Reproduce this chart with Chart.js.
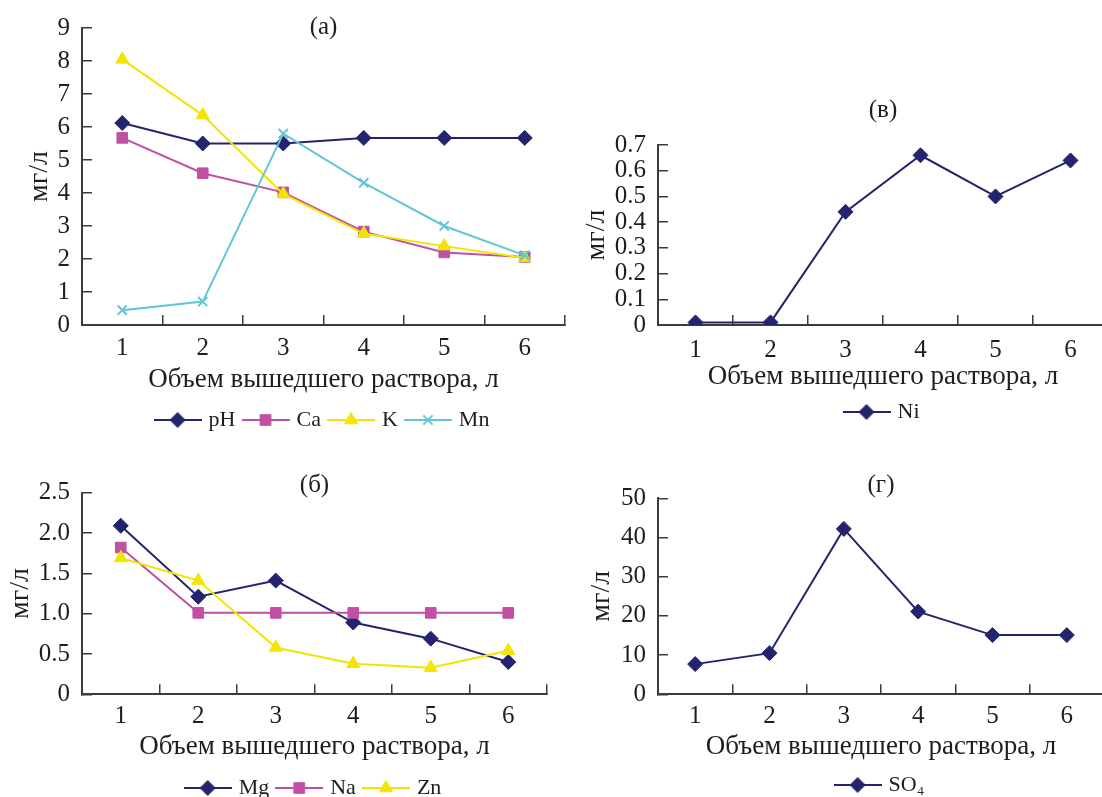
<!DOCTYPE html>
<html lang="ru">
<head>
    <meta charset="UTF-8">
    <title>Состав вышедшего раствора</title>
    <script src="https://cdn.jsdelivr.net/npm/chart.js"></script>
    <style>
        html, body {
            margin: 0;
            background: #fff;
            overflow: hidden;
        }
        #page {
            position: relative;
            width: 1102px;
            height: 797px;
            overflow: hidden;
        }
        #page canvas {
            position: absolute;
        }
    </style>
</head>
<body>
<div id="page">
    <canvas id="chartA" width="575" height="441" style="left:0;top:0"></canvas>
    <canvas id="chartB" width="557" height="349" style="left:0;top:460px"></canvas>
    <canvas id="chartV" width="560" height="353" style="left:560px;top:80px"></canvas>
    <canvas id="chartG" width="560" height="346" style="left:560px;top:460px"></canvas>
</div>
<script>
    // data (volume of outflowing solution, litres)
    const volumes = ['1', '2', '3', '4', '5', '6'];

    // (а)
    const pH = [6.12, 5.5, 5.5, 5.67, 5.67, 5.67];
    const ca = [5.67, 4.6, 4.02, 2.83, 2.2, 2.06];
    const k  = [8.05, 6.36, 3.97, 2.77, 2.39, 2.03];
    const mn = [0.45, 0.71, 5.8, 4.31, 3.0, 2.11];

    // (б)
    const mg = [2.09, 1.21, 1.41, 0.89, 0.69, 0.4];
    const na = [1.82, 1.01, 1.01, 1.01, 1.01, 1.01];
    const zn = [1.69, 1.41, 0.58, 0.38, 0.33, 0.54];

    // (в)
    const ni = [0.01, 0.01, 0.44, 0.66, 0.5, 0.64];

    // (г)
    const so4 = [7.7, 10.5, 42.2, 21.1, 15.1, 15.1];

    const xTitle = 'Объем вышедшего раствора, л';
    const yTitle = 'мг/л';

    const navy = '#24246e';
    const magenta = '#bf50a3';
    const yellow = '#f2e500';
    const cyan = '#62c6d5';
    const axisColor = '#3c3c3c';
    const textColor = '#1e1e1e';

    Chart.defaults.font.family = '"Liberation Serif", "Times New Roman", serif';
    Chart.defaults.color = textColor;

    // marker settings per series type
    const markers = {
        diamond: { pointStyle: 'rectRot', radius: 7.5, borderWidth: 1 },
        square: { pointStyle: 'rect', radius: 7.5, borderWidth: 1 },
        triangle: { pointStyle: 'triangle', radius: 7.5, borderWidth: 1 },
        cross: { pointStyle: 'crossRot', radius: 6.5, borderWidth: 2 }
    };

    function series(label, data, color, marker, order) {
        const m = markers[marker];
        return {
            label: label,
            data: data,
            borderColor: color,
            backgroundColor: color,
            borderWidth: 2,
            tension: 0,
            pointStyle: m.pointStyle,
            pointRadius: m.radius,
            pointBorderWidth: m.borderWidth,
            pointBackgroundColor: color,
            pointBorderColor: color,
            order: order,
            _marker: marker
        };
    }

    // excel-like legend key: short line with the marker in the middle
    function legendIcon(color, marker) {
        const m = markers[marker];
        const c = document.createElement('canvas');
        c.width = 48;
        c.height = 20;
        const g = c.getContext('2d');
        g.strokeStyle = color;
        g.fillStyle = color;
        g.lineWidth = 2;
        g.beginPath();
        g.moveTo(0, 10);
        g.lineTo(48, 10);
        g.stroke();
        g.lineWidth = m.borderWidth;
        Chart.helpers.drawPoint(g, { pointStyle: m.pointStyle, radius: m.radius, borderWidth: m.borderWidth }, 24, 10);
        return c;
    }

    function decimalTick(v) {
        return v === 0 ? '0' : v.toFixed(1);
    }

    function makePanel(id, panelLabel, datasets, cfg) {
        const tickGrid = {
            drawOnChartArea: false,
            drawTicks: true,
            tickLength: -10,
            color: axisColor,
            lineWidth: 1.5
        };
        return new Chart(document.getElementById(id), {
            type: 'line',
            data: { labels: volumes, datasets: datasets },
            options: {
                responsive: false,
                animation: false,
                events: [],
                layout: { padding: { top: 0, left: 0, right: cfg.padRight, bottom: 0 } },
                plugins: {
                    tooltip: { enabled: false },
                    title: {
                        display: true,
                        text: panelLabel,
                        fullSize: false,
                        color: textColor,
                        font: { size: 25, weight: 'normal' },
                        padding: { top: cfg.labelTop, bottom: cfg.labelBottom }
                    },
                    legend: {
                        position: 'bottom',
                        fullSize: false,
                        labels: {
                            usePointStyle: true,
                            pointStyleWidth: 40,
                            boxHeight: 14,
                            padding: 10,
                            color: textColor,
                            font: { size: 22 },
                            sort: (a, b) => a.datasetIndex - b.datasetIndex,
                            generateLabels(chart) {
                                const items = Chart.defaults.plugins.legend.labels.generateLabels(chart);
                                items.forEach(it => {
                                    const ds = chart.data.datasets[it.datasetIndex];
                                    it.pointStyle = legendIcon(ds.borderColor, ds._marker);
                                });
                                return items;
                            }
                        }
                    }
                },
                scales: {
                    x: {
                        offset: true,
                        grid: Object.assign({ offset: true }, tickGrid),
                        border: { color: axisColor, width: 2 },
                        ticks: { color: textColor, font: { size: 25 }, padding: cfg.xTickPad, maxRotation: 0, autoSkip: false },
                        title: {
                            display: true,
                            text: xTitle,
                            color: textColor,
                            font: { size: 27 },
                            padding: { top: 0, bottom: cfg.xTitlePad }
                        },
                        afterFit: s => { s.height = cfg.xHeight; }
                    },
                    y: {
                        min: 0,
                        max: cfg.yMax,
                        grid: tickGrid,
                        border: { color: axisColor, width: 2 },
                        ticks: {
                            stepSize: cfg.yStep,
                            autoSkip: false,
                            color: textColor,
                            font: { size: 25 },
                            padding: 22,
                            callback: cfg.yFormat
                        },
                        title: {
                            display: true,
                            text: yTitle,
                            color: textColor,
                            font: { size: 28 },
                            padding: { top: cfg.yTitlePad, bottom: 0 }
                        },
                        afterFit: s => {
                            s.width = cfg.yWidth;
                            s.paddingTop = 0;
                            s.paddingBottom = 0;
                        }
                    }
                }
            }
        });
    }

    makePanel('chartA', '(а)', [
        series('pH', pH, navy, 'diamond', 4),
        series('Ca', ca, magenta, 'square', 3),
        series('K', k, yellow, 'triangle', 2),
        series('Mn', mn, cyan, 'cross', 1)
    ], {
        yMax: 9, yStep: 1, yFormat: v => String(v),
        padRight: 10, yWidth: 82, xHeight: 74,
        labelTop: 12, labelBottom: -14,
        xTickPad: 18, xTitlePad: 2.8, yTitlePad: 23.2
    });

    makePanel('chartB', '(б)', [
        series('Mg', mg, navy, 'diamond', 3),
        series('Na', na, magenta, 'square', 2),
        series('Zn', zn, yellow, 'triangle', 1)
    ], {
        yMax: 2.5, yStep: 0.5, yFormat: decimalTick,
        padRight: 10, yWidth: 82, xHeight: 72.7,
        labelTop: 10, labelBottom: -7.3,
        xTickPad: 17.4, xTitlePad: 3.8, yTitlePad: 4.2
    });

    makePanel('chartV', '(в)', [
        series('Ni', ni, navy, 'diamond', 1)
    ], {
        yMax: 0.7, yStep: 0.1, yFormat: decimalTick,
        padRight: 12, yWidth: 98, xHeight: 66,
        labelTop: 15, labelBottom: 20,
        xTickPad: 20, xTitlePad: -1.9, yTitlePad: 19.9
    });

    makePanel('chartG', '(г)', [
        series('SO\u2084', so4, navy, 'diamond', 1)
    ], {
        yMax: 50, yStep: 10, yFormat: v => String(v),
        padRight: 16, yWidth: 98, xHeight: 69.7,
        labelTop: 10, labelBottom: -1.7,
        xTickPad: 17.4, xTitlePad: 1.1, yTitlePad: 24.9
    });
</script>
</body>
</html>
